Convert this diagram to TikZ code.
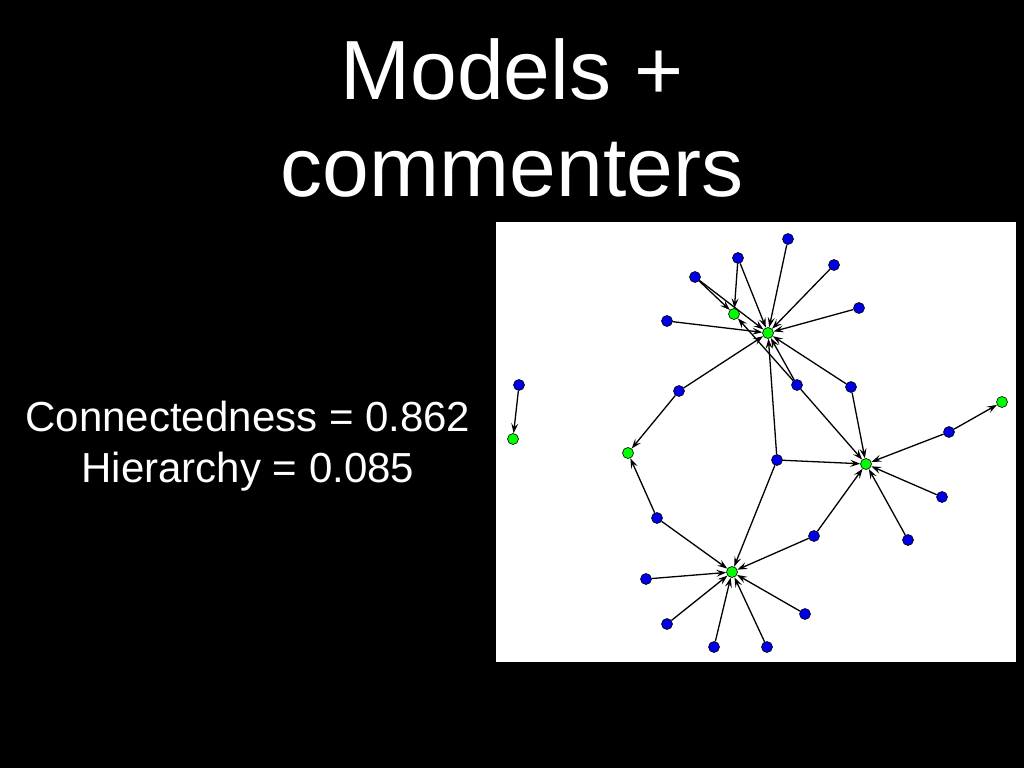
\documentclass[tikz,border=0pt]{standalone}
\usepackage{fontspec}
\setmainfont{Liberation Sans}
\usetikzlibrary{arrows.meta}

\begin{document}
\begin{tikzpicture}[x=1pt,y=-1pt,
    user/.style={circle,draw=black,fill=blue!90!black,inner sep=0pt,minimum size=11pt,line width=0.6pt},
    model/.style={circle,draw=black,fill=green,inner sep=0pt,minimum size=11pt,line width=0.6pt},
    link/.style={-{Stealth[length=10pt,width=7pt,inset=4pt]},line width=1.3pt}]
  \fill[black] (0,0) rectangle (1024,768);
  \useasboundingbox (0,0) rectangle (1024,768);
  \fill[white] (496,222) rectangle (1016,662);
  \node [white,align=center,font=\fontsize{84}{97}\selectfont] (title) at (512,118) {Models +\\commenters};
  \node [white,align=center,font=\fontsize{42}{51}\selectfont] (stats) at (248,446) {Connectedness = 0.862\\Hierarchy = 0.085};
  % models
  \node [model] (h_1) at (768,333) {};
  \node [model] (h_2) at (866,464) {};
  \node [model] (h_3) at (732,572) {};
  \node [model] (g_1) at (734,314) {};
  \node [model] (g_2) at (628,453) {};
  \node [model] (g_3) at (1002,402) {};
  \node [model] (g_4) at (513,439) {};
  % commenters
  \node [user] (b_1) at (695,277) {};
  \node [user] (b_2) at (738,258) {};
  \node [user] (b_3) at (788,239) {};
  \node [user] (b_4) at (834,265) {};
  \node [user] (b_5) at (859,308) {};
  \node [user] (b_6) at (667,321) {};
  \node [user] (b_7) at (679,391) {};
  \node [user] (b_8) at (797,385) {};
  \node [user] (b_9) at (851,387) {};
  \node [user] (b_10) at (777,460) {};
  \node [user] (b_11) at (949,432) {};
  \node [user] (b_12) at (942,497) {};
  \node [user] (b_13) at (908,540) {};
  \node [user] (b_14) at (814,536) {};
  \node [user] (b_15) at (657,518) {};
  \node [user] (b_16) at (646,579) {};
  \node [user] (b_17) at (667,624) {};
  \node [user] (b_18) at (714,647) {};
  \node [user] (b_19) at (767,647) {};
  \node [user] (b_20) at (805,614) {};
  \node [user] (b_21) at (519,385) {};
    \path[link]
    (b_1) edge (g_1)
    (b_1) edge (h_1)
    (b_2) edge (g_1)
    (b_2) edge (h_1)
    (b_3) edge (h_1)
    (b_4) edge (h_1)
    (b_5) edge (h_1)
    (b_6) edge (h_1)
    (b_7) edge (h_1)
    (b_7) edge (g_2)
    (b_8) edge (h_1)
    (b_8) edge (g_1)
    (b_8) edge (h_2)
    (b_9) edge (h_1)
    (b_9) edge (h_2)
    (b_10) edge (h_1)
    (b_10) edge (h_2)
    (b_10) edge (h_3)
    (b_11) edge (h_2)
    (b_11) edge (g_3)
    (b_12) edge (h_2)
    (b_13) edge (h_2)
    (b_14) edge (h_2)
    (b_14) edge (h_3)
    (b_15) edge (g_2)
    (b_15) edge (h_3)
    (b_16) edge (h_3)
    (b_17) edge (h_3)
    (b_18) edge (h_3)
    (b_19) edge (h_3)
    (b_20) edge (h_3)
    (b_21) edge (g_4);
\end{tikzpicture}
\end{document}
